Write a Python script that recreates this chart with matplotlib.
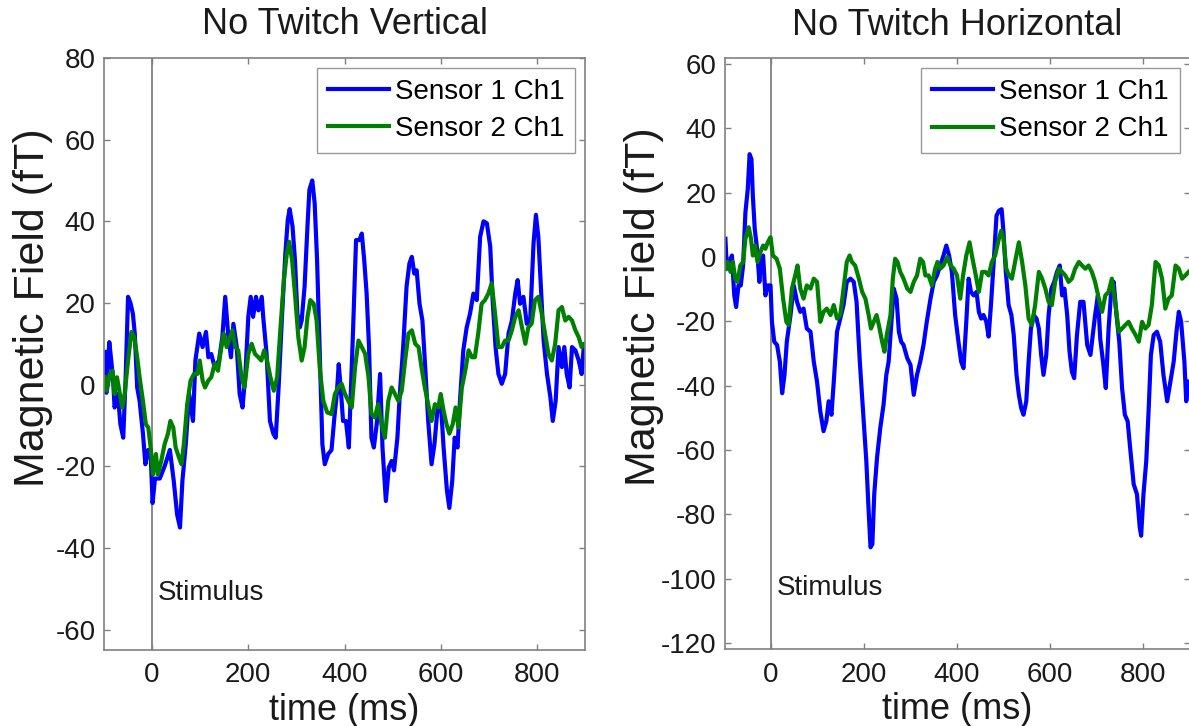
import numpy as np
import matplotlib
matplotlib.use("Agg")
import matplotlib.pyplot as plt

plt.rcParams['font.family'] = ['Liberation Sans', 'DejaVu Sans']
plt.rcParams['axes.unicode_minus'] = False

# ---- left panel: No Twitch Vertical ----
t_v1 = [-98, -95, -89, -85, -81, -78, -71, -66, -60, -55, -50, -45, -40, -36, -31, -26, -19, -14, -8, -3,
        1, 6, 16, 26, 37, 45, 52, 58, 63, 70, 77, 85, 90, 98, 105, 112, 117, 123, 130, 139,
        146, 152, 158, 164, 169, 176, 182, 188, 194, 200, 205, 210, 216, 221, 228, 231, 238, 245, 252, 257,
        263, 270, 277, 282, 286, 292, 297, 302, 307, 311, 317, 323, 327, 333, 338, 343, 349, 354, 359, 366,
        373, 379, 384, 388, 392, 397, 403, 409, 413, 418, 424, 431, 436, 441, 446, 451, 456, 461, 467, 474,
        479, 486, 492, 498, 503, 510, 515, 522, 529, 535, 540, 545, 550, 556, 562, 567, 574, 581, 587, 593,
        600, 606, 613, 618, 624, 629, 635, 640, 647, 654, 661, 668, 675, 682, 689, 696, 703, 708, 714, 720,
        727, 734, 741, 748, 755, 760, 765, 772, 779, 786, 793, 798, 803, 808, 814, 821, 828, 833, 839, 845,
        852, 857, 862, 868, 873, 880, 887, 893, 898, 900]
v_v1 = [8, -2, 10.4, 6, 1, -5.6, -2.3, -9.7, -13, 1.8, 21.5, 20, 17.4, 12.5, -0.7, -4, -12, -19.5, -16, -17,
        -29, -23, -23, -20, -16, -23.6, -31.8, -35, -23.6, -14.6, -2.3, -8.9, 5.9, 12.5, 9.2, 12.9, 6.7, 7.5, 4.3, 5.9,
        11.6, 21.5, 12.5, 6.7, 14.9, 9.2, -2.3, -5.6, 2.6, 16.6, 21.5, 16.6, 21.5, 18.2, 21.5, 16.6, 7.5, -8.9, -12, -13,
        -0.7, 16.6, 32, 40.3, 43, 38.7, 30.5, 17.4, 14, 15.7, 24, 38.7, 47.7, 50, 44.4, 30.5, 5.9, -14.6, -19.5, -17,
        -16, -8, -2.3, 5, -0.7, -8.9, -8.9, -15.4, -2.3, 14, 35.4, 35.4, 37, 30.5, 22.3, 9.2, -13, -15.4, -9.7, 2.6,
        -15.4, -28.5, -20.3, -18.7, -21, -13, -2.3, 9.2, 24, 29.7, 31.3, 27.2, 28, 19.8, 15.7, 5.9, -8.9, -19.5, -14.6, -6.4,
        -4, -15.4, -26, -30.2, -23.6, -13, -15.4, -4, 8.4, 14, 17.4, 22.3, 20.7, 36.2, 40, 39.5, 33.8, 20.7, 9.2, 2.6,
        0.2, 2.6, 12.5, 15.7, 22.3, 25.6, 19.8, 21.5, 14.9, 15.7, 34.6, 41.6, 36.2, 24.8, 10.8, 2.6, -3.1, -8.9, -4, 9.2,
        4.3, 9.2, 2.6, -0.7, 9.2, 8.4, 5.9, 2.6, 10, 9.2]

t_v2 = [-98, -94, -88, -82, -78, -73, -67, -62, -57, -50, -43, -37, -31, -26, -19, -13, -8, -3, 2, 8,
        12, 19, 26, 33, 38, 44, 49, 56, 61, 66, 73, 80, 87, 94, 99, 105, 110, 117, 123, 130,
        137, 143, 149, 155, 162, 167, 173, 179, 186, 192, 200, 207, 214, 221, 227, 233, 239, 246, 253, 260,
        267, 274, 280, 285, 291, 297, 304, 311, 317, 323, 329, 336, 342, 349, 356, 364, 373, 380, 387, 394,
        401, 408, 415, 422, 429, 436, 443, 450, 456, 463, 470, 477, 484, 491, 498, 505, 512, 519, 526, 533,
        540, 547, 554, 560, 567, 574, 581, 588, 595, 600, 606, 612, 618, 625, 631, 637, 644, 651, 658, 665,
        671, 678, 685, 692, 699, 706, 713, 720, 727, 734, 741, 748, 755, 762, 769, 776, 782, 789, 796, 803,
        810, 817, 824, 831, 838, 845, 852, 859, 866, 873, 880, 887, 893, 900]
v_v2 = [1.8, -1.5, 2.6, 3.4, -2.3, 1.8, -2.3, -5.6, -2.3, 5.9, 12.9, 11.6, 6.7, 1.8, -4, -9.7, -10.5, -15.4, -22, -17,
        -22, -18.7, -14.6, -12, -8.9, -10.5, -15.4, -17.9, -19.5, -14.6, -4.8, 1, 2.6, 2.6, 5.9, 1, -0.7, 1, 1.8, 5.1,
        3.4, 8.4, 12.5, 9.2, 11.6, 13.3, 9.2, 8.4, 1.8, -0.7, 7.5, 10, 7.5, 6.7, 5.9, 8.4, 5.9, 1.8, -1.5, 1.8,
        14, 25.6, 32, 35, 30.5, 22.3, 11.6, 5.9, 9.2, 16.6, 20.7, 19.8, 15.7, 3.4, -4, -6.8, -7.2, -2.3, -0.7, 0.2,
        -2.3, -4, -5.6, 4.3, 10.8, 9.2, 7.5, 1.8, -7.2, -8, -4.8, -9.7, -13, -4, -0.7, -2.3, -4, -1.5, 5.9, 12.5,
        13.3, 10, 9.2, 4.3, -0.7, -4.8, -8.9, -4.8, -5.6, -2.3, -6.4, -9.7, -12, -9.7, -5.6, -10.5, -0.7, 3.4, 8.4, 6.7,
        6.7, 12.5, 19.8, 20.7, 22.3, 24.8, 17.4, 9.2, 9.2, 10.8, 10.8, 13.3, 16.6, 18.2, 14, 10, 14, 14.9, 20.7, 21.5,
        17.4, 12.5, 7.5, 5.9, 10, 18.2, 19, 15.7, 16.6, 15.7, 13.3, 11.6, 9.2, 10]

# ---- right panel: No Twitch Horizontal ----
t_h1 = [-98, -95, -89, -84, -79, -75, -70, -65, -60, -55, -50, -46, -42, -39, -35, -30, -25, -22, -17, -12,
        -7, -1, 2, 7, 13, 19, 24, 29, 34, 42, 49, 56, 63, 70, 77, 85, 92, 99, 106, 113,
        119, 124, 130, 135, 142, 149, 156, 163, 171, 178, 184, 191, 198, 205, 210, 214, 218, 222, 228, 235,
        242, 248, 253, 258, 264, 270, 275, 280, 285, 293, 300, 307, 314, 321, 328, 335, 343, 350, 357, 364,
        371, 377, 383, 389, 396, 404, 409, 414, 420, 425, 430, 436, 442, 447, 452, 457, 463, 468, 473, 479,
        485, 490, 496, 500, 505, 511, 517, 522, 528, 533, 538, 543, 549, 554, 559, 565, 571, 576, 581, 586,
        592, 597, 603, 609, 615, 621, 626, 631, 637, 642, 647, 652, 658, 665, 672, 680, 687, 692, 697, 703,
        708, 714, 720, 726, 731, 737, 743, 749, 755, 761, 767, 773, 780, 787, 793, 796, 801, 807, 812, 817,
        823, 830, 837, 844, 852, 859, 866, 872, 877, 882, 889, 893, 898]
v_h1 = [5.7, -3.6, -1.5, 0.5, -11.9, -15.5, -8.8, -8.8, -2.6, 13.9, 21.1, 32, 30.4, 19, 8.8, 2.6, -7.7, -1.5, 0.5, -11.9,
        -8.8, -8.8, -20.1, -26.3, -27.3, -32.5, -42.3, -36.6, -26.3, -18, -8.8, -13.9, -17, -16, -22.2, -23.2, -32.5, -38.7, -47.9, -54.1,
        -51, -44.8, -49, -38.7, -23.2, -19.1, -14.9, -7.7, -6.7, -7.7, -13.9, -32.5, -47.9, -63.4, -78.9, -90.2, -89.2, -73.7, -62.4, -53.1,
        -45.9, -36.6, -32.5, -22.2, -9.8, -12.9, -23.2, -26.3, -27.3, -31.4, -33.5, -42.8, -36.6, -32.5, -27.3, -20.1, -12.9, -7.7, -5.7, -2.6,
        0.5, 3.6, 0.5, -4.6, -18, -27.3, -32.5, -34.5, -20.1, -6.7, -10.8, -11.9, -10.8, -17, -19.1, -18, -20.1, -24.7, -14.9, -1.5,
        12.9, 14.4, 14.9, 7.7, -4.6, -14.9, -18, -24.2, -36.6, -42.8, -46.9, -49, -44.8, -32.5, -22.2, -18, -19.1, -22.2, -30.4, -36.6,
        -30.4, -18, -9.8, -7.7, -4.6, -2.6, -11.9, -9.8, -18, -29.4, -35.6, -37.6, -24.2, -13.9, -13.9, -27.3, -30.4, -24.2, -18, -11.9,
        -25.3, -32.5, -40.7, -22.2, -11.9, -7.7, -18, -26.3, -40.7, -49, -51, -60.3, -70.6, -73.7, -84, -86.6, -73.7, -63.4, -47.9, -30.4,
        -24.2, -23.2, -26.3, -36.6, -44.8, -38.7, -32.5, -23.2, -17, -20.1, -32.5, -44.8, -38.7]

t_h2 = [-98, -93, -87, -82, -77, -72, -66, -60, -55, -48, -43, -39, -34, -29, -23, -17, -12, -7, -1, 4,
        12, 19, 26, 33, 38, 45, 52, 57, 63, 70, 77, 85, 92, 99, 106, 113, 120, 128, 135, 142,
        149, 156, 163, 169, 174, 181, 189, 196, 203, 210, 215, 221, 227, 232, 239, 244, 249, 257, 262, 267,
        272, 278, 285, 293, 300, 307, 314, 321, 327, 332, 339, 346, 353, 358, 364, 371, 379, 386, 393, 400,
        407, 413, 420, 427, 432, 439, 447, 454, 461, 468, 475, 482, 490, 495, 500, 506, 512, 518, 525, 533,
        540, 547, 554, 561, 568, 576, 583, 590, 597, 604, 611, 619, 626, 633, 640, 647, 654, 662, 669, 676,
        683, 690, 697, 705, 712, 719, 726, 733, 740, 748, 755, 762, 769, 776, 784, 791, 798, 805, 812, 819,
        827, 834, 841, 848, 855, 862, 870, 877, 884, 891, 898]
v_h2 = [-3.6, -1.5, -4.6, -1.5, -6.7, -7.7, -2.6, -1.5, 5.7, 9.3, 5.7, 0.5, 3.6, -1.5, 1.5, 3.6, 2.6, 4.6, 6.2, 0.5,
        -0.5, -3.6, -12.9, -20.1, -21.1, -9.8, -5.7, -2.6, -9.8, -12.9, -8.8, -9.8, -6.7, -7.7, -20.1, -17, -16, -18, -14.9, -19.1,
        -18, -9.8, -1.5, 0.5, -1.5, -2.6, -6.7, -10.8, -12.9, -18, -22.2, -20.1, -18, -21.1, -26.3, -29.4, -24.2, -18, -6.7, -0.5,
        -1.5, -4.6, -6.7, -9.8, -10.8, -7.7, -5.7, -0.5, -1.5, -5.7, -5.7, -8.8, -3.6, -1.5, -3.6, -2.6, 0, -2.6, -3.6, -5.7,
        -12.9, -5.7, 0.5, 4.6, 0.5, -4.6, -10.8, -4.6, -4.6, -5.7, -1.5, 0.5, 5.7, 8.2, 5.7, -3.6, -5.7, -6.7, -1.5, 4.6,
        -1.5, -8.8, -19.1, -21.1, -14.9, -4.6, -6.7, -9.8, -13.9, -14.9, -7.7, -3.6, -4.6, -5.7, -7.7, -6.7, -3.6, -1.5, -2.6, -3.6,
        -2.6, -4.6, -7.7, -12.9, -17, -11.9, -10.8, -6.7, -13.9, -23.2, -22.2, -21.1, -20.1, -22.2, -24.2, -26.3, -20.1, -22.2, -21.1, -14.9,
        -1.5, -2.6, -6.7, -16, -12.9, -11.9, -2.6, -3.6, -6.7, -5.7, -4.6]

titles = ["No Twitch Vertical", "No Twitch Horizontal"]
series_labels = ["Sensor 1 Ch1", "Sensor 2 Ch1"]
xticks = [0, 200, 400, 600, 800]

fig = plt.figure(figsize=(11.89, 7.26), dpi=100)
ax1 = fig.add_axes([104 / 1189, 76 / 726, 481 / 1189, 592 / 726])
ax2 = fig.add_axes([724.5 / 1189, 76.7 / 726, 465 / 1189, 591 / 726])

panels = [
    (ax1, t_v1, v_v1, t_v2, v_v2, (-65, 80), [-60, -40, -20, 0, 20, 40, 60, 80], -51, -0.106),
    (ax2, t_h1, v_h1, t_h2, v_h2, (-121.9, 61.8), [-120, -100, -80, -60, -40, -20, 0, 20, 40, 60], -103, -0.131),
]

txt = '#1a1a1a'
for i, (ax, ta, va, tb, vb, ylim, yticks, stim_y, ylab_x) in enumerate(panels):
    ax.plot(ta, va, color='#0000ff', lw=3, label=series_labels[0])
    ax.plot(tb, vb, color='#008000', lw=3, label=series_labels[1])
    ax.axvline(0, color='#808080', lw=1.3, zorder=0)
    ax.text(12, stim_y, "Stimulus", fontsize=20, va='center', ha='left', color=txt)

    ax.set_xlim(-100, 900)
    ax.set_ylim(*ylim)
    ax.set_xticks(xticks)
    ax.set_yticks(yticks)
    ax.tick_params(direction='in', length=4, width=1, colors='#808080', labelcolor=txt,
                   labelsize=20, top=True, right=True, pad=6)
    ax.tick_params(axis='x', pad=9)
    for s in ax.spines.values():
        s.set_color('#808080')
        s.set_linewidth(1.2)

    ax.set_title(titles[i], fontsize=26, pad=17, color=txt)
    ax.set_xlabel("time (ms)", fontsize=26, color=txt, labelpad=3)
    ax.set_ylabel("Magnetic Field (fT)", fontsize=31, color=txt)
    ax.yaxis.set_label_coords(ylab_x, 0.579)

    leg = ax.legend(loc='upper right', fontsize=20, handlelength=2.2, handletextpad=0.2,
                    borderaxespad=0.35, labelspacing=0.4, borderpad=0.4, fancybox=False)
    leg.get_frame().set_edgecolor('#808080')
    leg.get_frame().set_linewidth(1.0)

fig.savefig("out.png", dpi=100)
